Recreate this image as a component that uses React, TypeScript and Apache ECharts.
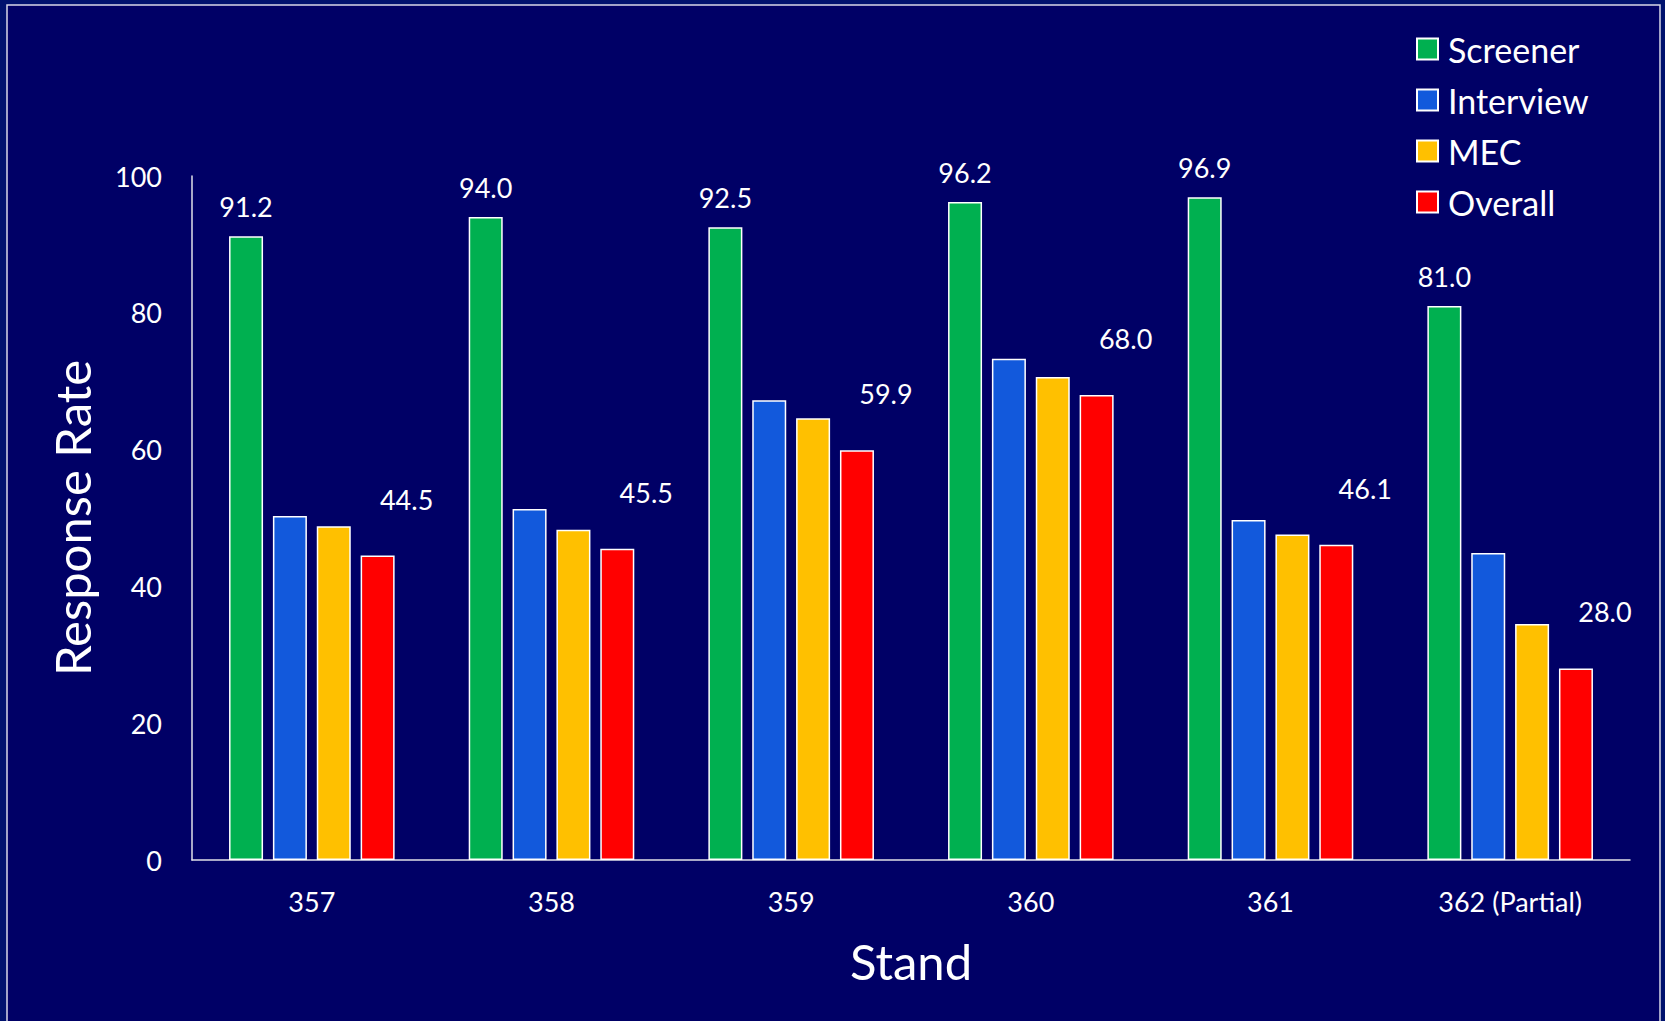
import React, { useEffect, useRef } from "react";
import * as echarts from "echarts";

const categories = ["357", "358", "359", "360", "361", "362 (Partial)"];
const screener = [91.2, 94.0, 92.5, 96.2, 96.9, 81.0];
const interview = [50.3, 51.3, 67.2, 73.3, 49.7, 44.9];
const mec = [48.8, 48.3, 64.6, 70.6, 47.6, 34.5];
const overall = [44.5, 45.5, 59.9, 68.0, 46.1, 28.0];
const yTicks = { min: 0, max: 100, interval: 20 };

const FONT = "Lato";

export default function App() {
  const ref = useRef<HTMLDivElement>(null);
  useEffect(() => {
    if (!ref.current) return;
    const chart = echarts.init(ref.current, undefined, { renderer: "svg" });
    const barBase = {
      type: "bar",
      barWidth: 34,
      barGap: "29%",
      itemStyle: { borderColor: "#ffffff", borderWidth: 1.5 },
    };
    chart.setOption({
      animation: false,
      backgroundColor: "#00126E",
      textStyle: { fontFamily: FONT },
      graphic: [
        {
          type: "rect",
          z: -10,
          shape: { x: 7, y: 5, width: 1653, height: 1040 },
          style: { fill: "#000066", stroke: "#d8d8e8", lineWidth: 1.5 },
        },
      ],
      grid: { left: 192, top: 176, right: 35, bottom: 161, containLabel: false },
      legend: {
        orient: "vertical",
        left: 1416,
        top: 32,
        padding: 0,
        itemWidth: 21,
        itemHeight: 21,
        itemGap: 17,
        icon: "rect",
        textStyle: { color: "#ffffff", fontSize: 34, fontFamily: FONT, lineHeight: 34, padding: [0, 0, 0, 5] },
        data: ["Screener", "Interview", "MEC", "Overall"],
      },
      xAxis: {
        type: "category",
        data: categories,
        name: "Stand",
        nameLocation: "middle",
        nameGap: 76,
        nameTextStyle: { color: "#ffffff", fontSize: 49, fontFamily: FONT },
        axisLine: { show: true, lineStyle: { color: "#e0e0e8", width: 1.5 } },
        axisTick: { show: false },
        axisLabel: { color: "#ffffff", fontSize: 27, fontFamily: FONT, margin: 28 },
        splitLine: { show: false },
      },
      yAxis: {
        type: "value",
        min: yTicks.min,
        max: yTicks.max,
        interval: yTicks.interval,
        name: "Response Rate",
        nameLocation: "middle",
        nameRotate: 90,
        nameGap: 96,
        nameTextStyle: { color: "#ffffff", fontSize: 49, fontFamily: FONT },
        axisLine: { show: true, lineStyle: { color: "#e0e0e8", width: 1.5 } },
        axisTick: { show: false },
        axisLabel: { color: "#ffffff", fontSize: 27, fontFamily: FONT, margin: 30 },
        splitLine: { show: false },
      },
      series: [
        {
          ...barBase,
          name: "Screener",
          data: screener,
          itemStyle: { ...barBase.itemStyle, color: "#00B050" },
          label: {
            show: true,
            position: "top",
            distance: 16,
            color: "#ffffff",
            fontSize: 27,
            fontFamily: FONT,
            formatter: (p: any) => Number(p.value).toFixed(1),
          },
        },
        {
          ...barBase,
          name: "Interview",
          data: interview,
          itemStyle: { ...barBase.itemStyle, color: "#1259DC" },
        },
        {
          ...barBase,
          name: "MEC",
          data: mec,
          itemStyle: { ...barBase.itemStyle, color: "#FFC000" },
        },
        {
          ...barBase,
          name: "Overall",
          data: overall,
          itemStyle: { ...barBase.itemStyle, color: "#FF0000" },
          label: {
            show: true,
            position: "top",
            distance: 16,
            offset: [29, -27],
            color: "#ffffff",
            fontSize: 27,
            fontFamily: FONT,
            formatter: (p: any) => Number(p.value).toFixed(1),
          },
        },
      ],
    });
    return () => chart.dispose();
  }, []);
  return (
    <div
      ref={ref}
      style={{ position: "fixed", left: 0, top: 0, width: 1665, height: 1021 }}
    />
  );
}
